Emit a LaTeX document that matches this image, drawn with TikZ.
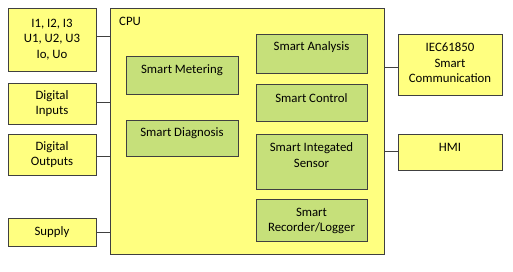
\documentclass[tikz,border=0pt]{standalone}
\usepackage{fontspec}
\setmainfont{Carlito}
\definecolor{ybox}{HTML}{FFFF80}
\definecolor{gbox}{HTML}{C6E07A}
\definecolor{edge}{HTML}{404040}
\begin{document}
\begin{tikzpicture}[x=1pt,y=-1pt,
  yb/.style={draw=edge, fill=ybox, line width=0.9pt, inner sep=0pt, align=center, font=\fontsize{12.8}{15.6}\selectfont},
  gb/.style={draw=edge, fill=gbox, line width=0.9pt, inner sep=0pt, align=center, font=\fontsize{12.8}{15.6}\selectfont},
  txt/.style={inner sep=0pt, align=center, font=\fontsize{12.8}{15.6}\selectfont},
  conn/.style={draw=edge, line width=0.9pt}]
\useasboundingbox[fill=white] (0,0) rectangle (513,272);
% CPU
\node[yb, minimum width=274pt, minimum height=246pt] (cpu) at (247,131) {};
\node[txt, anchor=west] (cpulbl) at (119,21) {CPU};
% left boxes
\node[yb, minimum width=88pt, minimum height=63pt] (meas) at (52,39.5) {I1, I2, I3\\U1, U2, U3\\Io, Uo};
\node[yb, minimum width=88pt, minimum height=41pt] (di) at (52,103.5) {Digital\\Inputs};
\node[yb, minimum width=88pt, minimum height=41pt] (do) at (52,154.5) {Digital\\Outputs};
\node[yb, minimum width=88pt, minimum height=28pt] (sup) at (52,232) {Supply};
% right boxes
\node[yb, minimum width=104pt, minimum height=61pt] (iec) at (450,64.5) {};
\node[txt] (iect) at (450,63) {IEC61850\\Smart\\Communication};
\node[yb, minimum width=104pt, minimum height=36pt] (hmi) at (450,152) {};
\node[txt] (hmit) at (450,147) {HMI};
% inner green boxes
\node[gb, minimum width=112pt, minimum height=38pt] (sm) at (182,75) {};
\node[txt] (smt) at (182,70) {Smart Metering};
\node[gb, minimum width=112pt, minimum height=36pt] (sd) at (182,138) {};
\node[txt] (sdt) at (182,133) {Smart Diagnosis};
\node[gb, minimum width=111pt, minimum height=39pt] (sa) at (311.5,53.5) {};
\node[txt] (sat) at (311.5,47.5) {Smart Analysis};
\node[gb, minimum width=111pt, minimum height=37pt] (sc) at (311.5,102.5) {};
\node[txt] (sct) at (311.5,98) {Smart Control};
\node[gb, minimum width=111pt, minimum height=55pt] (sis) at (311.5,161.5) {};
\node[txt] (sist) at (311.5,155) {Smart Integated\\Sensor};
\node[gb, minimum width=111pt, minimum height=42pt] (sr) at (311.5,220) {};
\node[txt] (srt) at (311.5,221) {Smart\\Recorder/Logger};
% connectors
\draw[conn] ([yshift=3.5pt]meas.east) -- ([yshift=3.5pt]meas.east -| cpu.west);
\draw[conn] ([yshift=1.5pt]di.east) -- ([yshift=1.5pt]di.east -| cpu.west);
\draw[conn] ([yshift=-1.5pt]do.east) -- ([yshift=-1.5pt]do.east -| cpu.west);
\draw[conn] (sup.east) -- (sup.east -| cpu.west);
\draw[conn] ([yshift=-2.5pt]iec.west) -- ([yshift=-2.5pt]iec.west -| cpu.east);
\draw[conn] ([yshift=1pt]hmi.west) -- ([yshift=1pt]hmi.west -| cpu.east);
\end{tikzpicture}
\end{document}
